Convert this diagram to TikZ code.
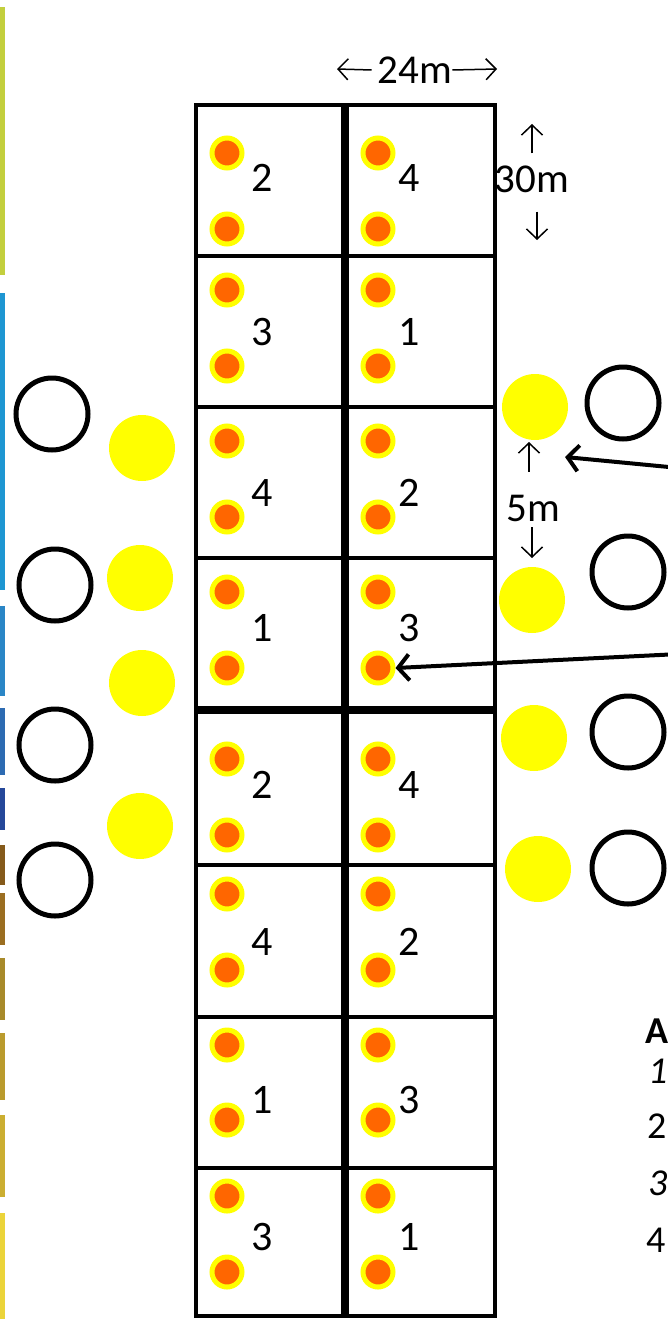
\documentclass[tikz,border=0pt]{standalone}
\usepackage{fontspec}
\setmainfont{Carlito}
\usetikzlibrary{arrows.meta}
\definecolor{sonne}{HTML}{FFFF00}
\definecolor{kern}{HTML}{FF6600}
\definecolor{band1}{HTML}{C3CF3D}
\definecolor{band2}{HTML}{1E96D2}
\definecolor{band3}{HTML}{2A86C6}
\definecolor{band4}{HTML}{2D6BB2}
\definecolor{band5}{HTML}{25489A}
\definecolor{band6}{HTML}{855A1B}
\definecolor{band7}{HTML}{9B6E21}
\definecolor{band8}{HTML}{A88A2A}
\definecolor{band9}{HTML}{BA9B2D}
\definecolor{band10}{HTML}{CBAE31}
\definecolor{band11}{HTML}{EBD43A}

\begin{document}
\begin{tikzpicture}[x=1pt, y=-1pt,
      parzelle/.style={draw=black, line width=4.8pt},
      messpunkt/.style={circle, draw=sonne, line width=5pt, fill=kern,
        minimum size=30pt, inner sep=0pt},
      gelbkreis/.style={circle, fill=sonne, minimum size=66pt, inner sep=0pt},
      ring/.style={circle, draw=black, line width=5pt, minimum size=72pt, inner sep=0pt},
      zahl/.style={font=\fontsize{42}{48}\selectfont, inner sep=0pt},
      massangabe/.style={font=\fontsize{41}{48}\selectfont, inner sep=0pt},
      legende/.style={anchor=west, font=\fontsize{38}{44}\selectfont, inner sep=0pt},
      mass/.style={-{Straight Barb[length=10pt, width=21pt]}, line width=1.5pt},
      pfeil/.style={-{Straight Barb[length=11pt, width=26pt]}, line width=4pt}]
    \useasboundingbox (0,0) rectangle (668,1319);
    % Farbband am linken Rand
    \foreach \von/\bis/\farbe in {7/275/band1, 293/590/band2, 606/696/band3,
        708/775/band4, 788/830/band5, 845/885/band6, 893/945/band7,
        958/1020/band8, 1033/1100/band9, 1115/1197/band10, 1213/1319/band11}
      \fill[\farbe] (0,\von) rectangle (5,\bis);
    % Parzellen mit Messpunkten und Nummern
    \foreach \oben/\unten/\pa/\pb/\zy/\li/\re [count=\i] in
        {105/256/153/229/178/2/4, 256/407/290/366/332/3/1,
         407/558/441/517/493/4/2, 558/708/592/668/628/1/3,
         712/865/759/835/785/2/4, 865/1017/894/970/942/4/2,
         1017/1168/1045/1120/1100/1/3, 1168/1316/1196/1272/1237/3/1} {
      \draw[parzelle] (196,\oben) rectangle (343,\unten);
      \draw[parzelle] (347,\oben) rectangle (495,\unten);
      \node[messpunkt] (lo\i) at (227,\pa) {};
      \node[messpunkt] (lu\i) at (227,\pb) {};
      \node[messpunkt] (ro\i) at (378,\pa) {};
      \node[messpunkt] (ru\i) at (378,\pb) {};
      \node[zahl] (zl\i) at (262,\zy) {\li};
      \node[zahl] (zr\i) at (409,\zy) {\re};
    }
    % gelbe Flaechen und Ringe links
    \node[gelbkreis] (gl1) at (142,448) {};
    \node[gelbkreis] (gl2) at (140,578) {};
    \node[gelbkreis] (gl3) at (142,683) {};
    \node[gelbkreis] (gl4) at (140,826) {};
    \node[ring] (kl1) at (52,414) {};
    \node[ring] (kl2) at (55,585) {};
    \node[ring] (kl3) at (55,745) {};
    \node[ring] (kl4) at (55,880) {};
    % gelbe Flaechen und Ringe rechts
    \node[gelbkreis] (gr1) at (535,407) {};
    \node[gelbkreis] (gr2) at (532,600) {};
    \node[gelbkreis] (gr3) at (534,738) {};
    \node[gelbkreis] (gr4) at (538,869) {};
    \node[ring] (kr1) at (623,403) {};
    \node[ring] (kr2) at (628,572) {};
    \node[ring] (kr3) at (628,732) {};
    \node[ring] (kr4) at (628,868) {};
    % Masse
    \node[massangabe] (breite) at (415,70) {24m};
    \coordinate (breite-l) at (337,69);
    \coordinate (breite-r) at (497,69);
    \draw[mass] ([xshift=-6pt]breite.west) -- (breite-l);
    \draw[mass] (breite.east) -- (breite-r);
    \node[massangabe] (hoehe) at (532,179) {30m};
    \coordinate (hoehe-o) at (532,124);
    \coordinate (hoehe-u) at (537,240);
    \draw[mass] ([yshift=12pt]hoehe.north) -- (hoehe-o);
    \draw[mass] ([xshift=5pt, yshift=-19pt]hoehe.south) -- (hoehe-u);
    \node[massangabe] (abstand) at (533,508) {5m};
    \coordinate (abstand-o) at (529,442);
    \coordinate (abstand-u) at (532,558);
    \draw[mass] ([xshift=-4pt, yshift=23pt]abstand.north) -- (abstand-o);
    \draw[mass] ([xshift=-1pt, yshift=-6pt]abstand.south) -- (abstand-u);
    % Hinweispfeile von rechts
    \coordinate (quelle1) at (700,470);
    \coordinate (ziel1) at (565,457);
    \coordinate (quelle2) at (700,653);
    \draw[pfeil] (quelle1) -- (ziel1);
    \draw[pfeil] (quelle2) -- (ru4.east);
    % Legende
    \node[legende, font=\fontsize{38}{44}\selectfont\bfseries] (leg0) at (645,1031) {A};
    \node[legende, font=\fontsize{38}{44}\selectfont\itshape] (leg1) at (648,1071) {1};
    \node[legende] (leg2) at (647,1126) {2};
    \node[legende, font=\fontsize{38}{44}\selectfont\itshape] (leg3) at (648,1183) {3};
    \node[legende] (leg4) at (646,1240) {4};
  \end{tikzpicture}
\end{document}
